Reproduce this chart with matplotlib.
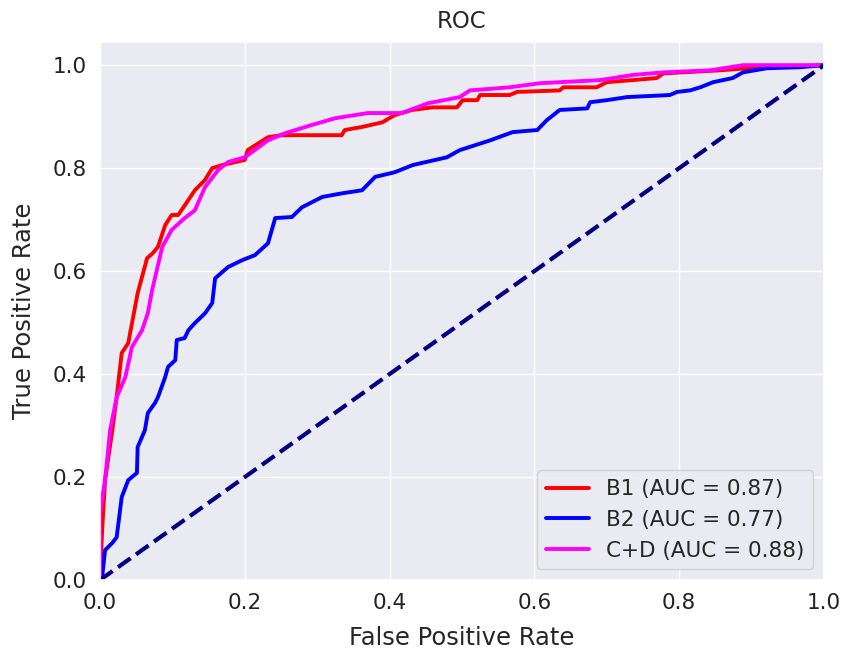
import numpy as np
import matplotlib
matplotlib.use('Agg')
import matplotlib.pyplot as plt
import seaborn as sns

# ROC points
b1_fpr = [0.0, 0.003, 0.007, 0.017, 0.023, 0.030, 0.039, 0.052, 0.065, 0.073, 0.080,
          0.090, 0.099, 0.108, 0.122, 0.131, 0.145, 0.155, 0.169, 0.200, 0.204, 0.232,
          0.251, 0.334, 0.338, 0.362, 0.390, 0.407, 0.431, 0.459, 0.493, 0.501, 0.521,
          0.525, 0.566, 0.576, 0.635, 0.640, 0.686, 0.700, 0.736, 0.769, 0.778, 0.856,
          0.894, 1.0]
b1_tpr = [0.0, 0.097, 0.194, 0.291, 0.355, 0.441, 0.460, 0.557, 0.625, 0.635, 0.647,
          0.689, 0.709, 0.709, 0.738, 0.757, 0.777, 0.800, 0.806, 0.816, 0.835, 0.860,
          0.864, 0.864, 0.874, 0.880, 0.889, 0.903, 0.913, 0.918, 0.918, 0.932, 0.932,
          0.942, 0.942, 0.948, 0.951, 0.957, 0.957, 0.967, 0.971, 0.975, 0.984, 0.990,
          0.994, 1.0]

b2_fpr = [0.0, 0.003, 0.007, 0.017, 0.023, 0.030, 0.039, 0.051, 0.052, 0.062, 0.066,
          0.076, 0.080, 0.090, 0.094, 0.104, 0.106, 0.117, 0.122, 0.131, 0.145, 0.155,
          0.159, 0.177, 0.196, 0.214, 0.232, 0.242, 0.265, 0.279, 0.307, 0.334, 0.362,
          0.380, 0.407, 0.432, 0.479, 0.497, 0.539, 0.570, 0.604, 0.617, 0.635, 0.673,
          0.677, 0.700, 0.728, 0.787, 0.797, 0.815, 0.829, 0.847, 0.874, 0.888, 0.921,
          0.967, 1.0]
b2_tpr = [0.0, 0.006, 0.058, 0.072, 0.083, 0.161, 0.194, 0.208, 0.258, 0.291, 0.324,
          0.344, 0.355, 0.394, 0.414, 0.427, 0.466, 0.470, 0.485, 0.499, 0.518, 0.538,
          0.586, 0.608, 0.621, 0.631, 0.654, 0.703, 0.705, 0.724, 0.744, 0.751, 0.757,
          0.783, 0.792, 0.806, 0.821, 0.835, 0.854, 0.870, 0.874, 0.893, 0.913, 0.916,
          0.928, 0.932, 0.938, 0.942, 0.948, 0.951, 0.957, 0.967, 0.975, 0.986, 0.994,
          0.996, 1.0]

cd_fpr = [0.0, 0.0, 0.007, 0.014, 0.023, 0.035, 0.044, 0.058, 0.066, 0.072, 0.086,
          0.099, 0.117, 0.131, 0.145, 0.163, 0.177, 0.200, 0.232, 0.256, 0.293, 0.325,
          0.370, 0.417, 0.453, 0.497, 0.511, 0.566, 0.608, 0.691, 0.736, 0.778, 0.843,
          0.888, 1.0]
cd_tpr = [0.0, 0.130, 0.194, 0.291, 0.355, 0.394, 0.452, 0.485, 0.518, 0.563, 0.647,
          0.680, 0.703, 0.718, 0.763, 0.796, 0.812, 0.821, 0.854, 0.868, 0.884, 0.897,
          0.907, 0.907, 0.926, 0.938, 0.951, 0.957, 0.965, 0.971, 0.981, 0.986, 0.990,
          1.0, 1.0]

curves = [
    ('B1', 0.87, b1_fpr, b1_tpr, 'red'),
    ('B2', 0.77, b2_fpr, b2_tpr, 'blue'),
    ('C+D', 0.88, cd_fpr, cd_tpr, 'magenta'),
]

sns.set_theme(style='darkgrid')
plt.rcParams['font.family'] = ['DejaVu Sans']

fig = plt.figure(figsize=(8.51, 6.61), dpi=100)
ax = fig.add_axes([100 / 851, 1 - 580 / 661, 724 / 851, 538 / 661])

for name, auc, fpr, tpr, c in curves:
    ax.plot(fpr, tpr, color=c, lw=2.8, label=f'{name} (AUC = {auc:.2f})')
ax.plot([0, 1], [0, 1], color='navy', lw=3, ls='--')

ax.set_xlim(0.0, 1.0)
ax.set_ylim(0.0, 1.045)
ax.set_xticks(np.arange(0, 1.01, 0.2))
ax.set_yticks(np.arange(0, 1.01, 0.2))
ax.tick_params(labelsize=15.5, colors='#222222')
ax.set_xlabel('False Positive Rate', fontsize=17.5, labelpad=9)
ax.set_ylabel('True Positive Rate', fontsize=17.5, labelpad=12)
ax.set_title('ROC', fontsize=16.5, pad=10)
ax.legend(loc='lower right', fontsize=15.5)

fig.savefig('out.png', dpi=100)
